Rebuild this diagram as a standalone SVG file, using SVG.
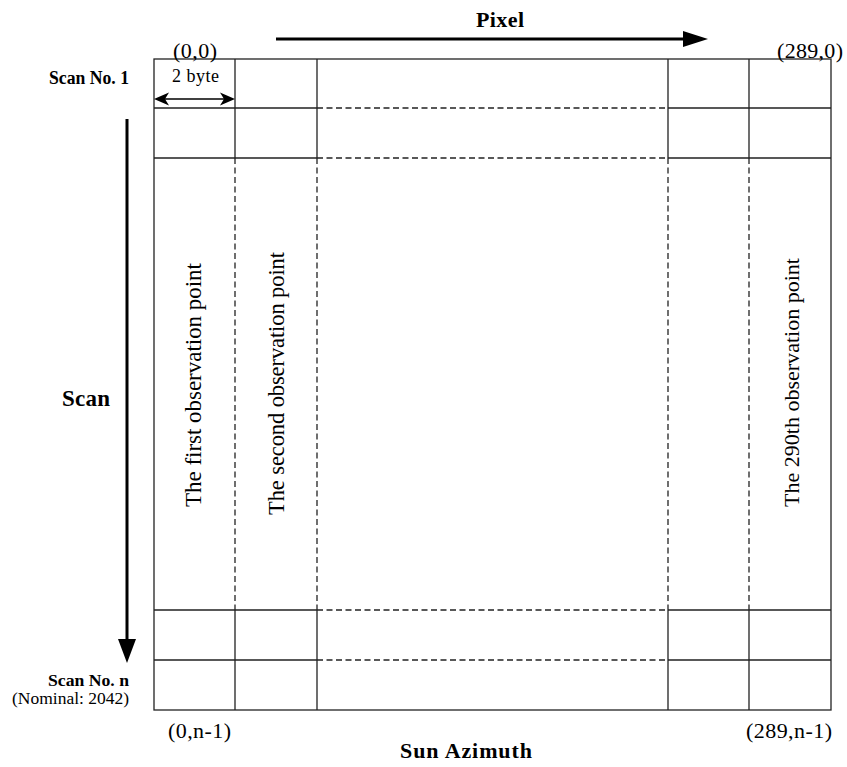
<svg xmlns="http://www.w3.org/2000/svg" width="847" height="767" viewBox="0 0 847 767">
<style>
.s{stroke:#222;stroke-width:1.3;fill:none}
.d{stroke:#222;stroke-width:1.3;fill:none;stroke-dasharray:6 3.5}
.t{font-family:"Liberation Serif","Times New Roman","DejaVu Serif",serif;fill:#000}
.b{font-weight:bold}
</style>
<rect width="847" height="767" fill="#fff"/>
<g id="grid">
<rect class="s" x="154" y="59" width="677" height="651"/>
<path class="s" d="M154,108H317M668,108H831M154,158H317M668,158H831M154,610H317M668,610H831M154,660H317M668,660H831"/>
<path class="s" d="M235,59V158M317,59V158M668,59V158M749,59V158M235,610V710M317,610V710M668,610V710M749,610V710"/>
<path class="d" d="M317,108H668M317,158H668M317,610H668M317,660H668"/>
<path class="d" d="M235,158V610M317,158V610M668,158V610M749,158V610"/>
</g>
<g id="connectors">
<line x1="276" y1="39" x2="686" y2="39" stroke="#000" stroke-width="3"/>
<polygon points="683,31 708,39 683,47" fill="#000"/>
<line x1="127" y1="119" x2="127" y2="642" stroke="#000" stroke-width="3"/>
<polygon points="118,639 127,663 136,639" fill="#000"/>
<line x1="158" y1="99" x2="231" y2="99" stroke="#000" stroke-width="1.3"/>
<path d="M154,99 L169,92.5 L165,99 L169,105.5 Z" fill="#000"/>
<path d="M235,99 L220,92.5 L224,99 L220,105.5 Z" fill="#000"/>
</g>
<g id="labels">
<text class="t b" x="500" y="27" font-size="22" text-anchor="middle" textLength="48">Pixel</text>
<text class="t b" x="466" y="758" font-size="22" text-anchor="middle" textLength="132">Sun Azimuth</text>
<text class="t b" x="62" y="406" font-size="23" textLength="48">Scan</text>
<text class="t b" x="129" y="84" font-size="18" text-anchor="end" textLength="80" lengthAdjust="spacingAndGlyphs">Scan No. 1</text>
<text class="t b" x="129" y="686" font-size="17" text-anchor="end" textLength="81" lengthAdjust="spacingAndGlyphs">Scan No. n</text>
<text class="t" x="129" y="704" font-size="16" text-anchor="end" textLength="117" lengthAdjust="spacingAndGlyphs">(Nominal: 2042)</text>
<text class="t" x="173" y="58" font-size="22" textLength="44">(0,0)</text>
<text class="t" x="777" y="58" font-size="22" textLength="66">(289,0)</text>
<text class="t" x="168" y="738" font-size="22" textLength="63">(0,n-1)</text>
<text class="t" x="746" y="738" font-size="22" textLength="86">(289,n-1)</text>
<text class="t" x="172" y="82" font-size="18" textLength="47">2 byte</text>
</g>
<g id="col1"><text class="t" transform="translate(200.5,385) rotate(-90)" font-size="23" text-anchor="middle" textLength="244">The first observation point</text></g>
<g id="col2"><text class="t" transform="translate(283.5,383.5) rotate(-90)" font-size="22.5" text-anchor="middle" textLength="263">The second observation point</text></g>
<g id="col290"><text class="t" transform="translate(799,382.5) rotate(-90)" font-size="22" text-anchor="middle" textLength="249">The 290th observation point</text></g>
</svg>
